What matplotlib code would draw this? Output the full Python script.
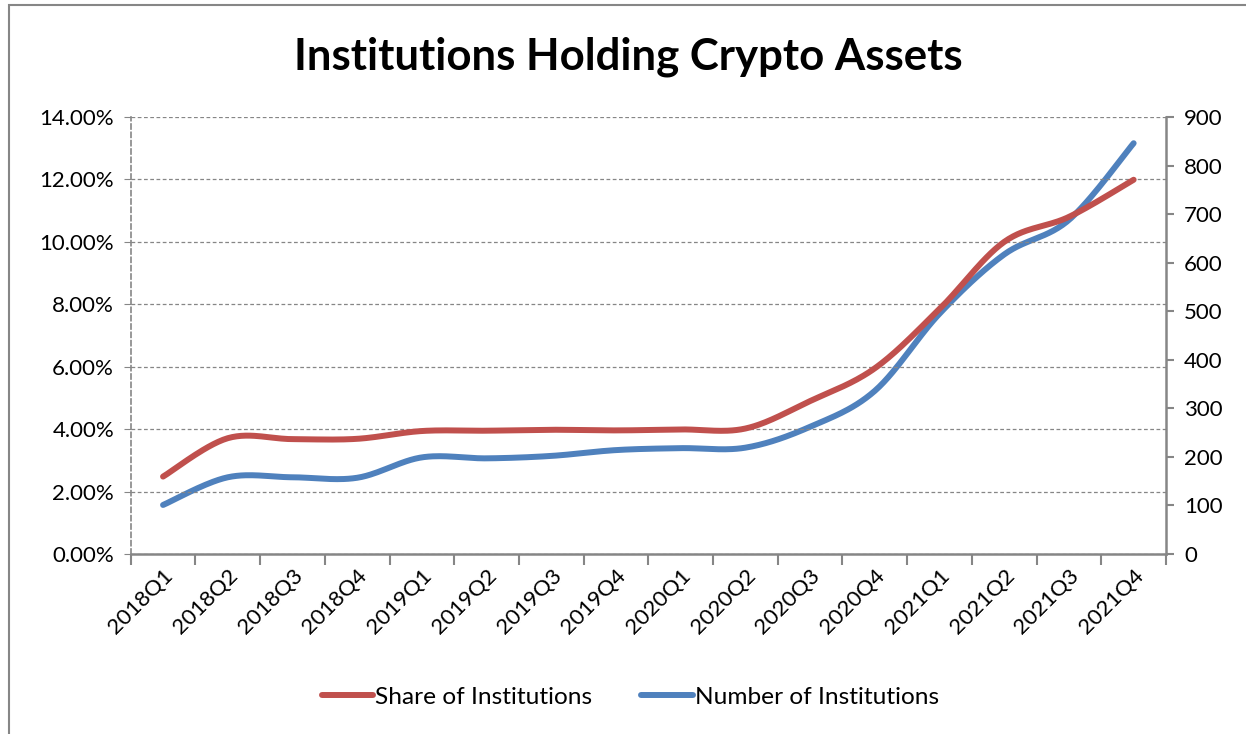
import numpy as np
import matplotlib.pyplot as plt
from matplotlib.ticker import FuncFormatter, MultipleLocator
from matplotlib.patches import Rectangle

plt.rcParams["font.family"] = ["Lato", "DejaVu Sans"]

quarters = ["2018Q1", "2018Q2", "2018Q3", "2018Q4",
            "2019Q1", "2019Q2", "2019Q3", "2019Q4",
            "2020Q1", "2020Q2", "2020Q3", "2020Q4",
            "2021Q1", "2021Q2", "2021Q3", "2021Q4"]
share_pct = [2.48, 3.71, 3.68, 3.69, 3.94, 3.95, 3.98, 3.96,
             3.99, 4.02, 4.9, 5.95, 7.85, 10.0, 10.8, 11.99]
n_inst = [101, 158, 158, 157, 199, 197, 202, 214,
          218, 219, 262, 336, 495, 617, 688, 846]

red = "#C0504D"
blue = "#4F81BD"
grey = "#868686"


def smooth(x, y, n=30):
    # excel-style bezier smoothing between points
    x = np.asarray(x, float)
    y = np.asarray(y, float)
    px = np.concatenate([[x[0]], x, [x[-1]]])
    py = np.concatenate([[y[0]], y, [y[-1]]])
    xs, ys = [], []
    t = np.linspace(0, 1, n)
    for i in range(1, len(px) - 2):
        p0 = np.array([px[i], py[i]])
        p3 = np.array([px[i + 1], py[i + 1]])
        c1 = p0 + (np.array([px[i + 1], py[i + 1]]) - np.array([px[i - 1], py[i - 1]])) / 6
        c2 = p3 - (np.array([px[i + 2], py[i + 2]]) - np.array([px[i], py[i]])) / 6
        b = ((1 - t) ** 3)[:, None] * p0 + (3 * (1 - t) ** 2 * t)[:, None] * c1 \
            + (3 * (1 - t) * t ** 2)[:, None] * c2 + (t ** 3)[:, None] * p3
        xs.append(b[:, 0])
        ys.append(b[:, 1])
    return np.concatenate(xs), np.concatenate(ys)


fig = plt.figure(figsize=(12.46, 7.34), dpi=100)
# outer chart border, right and bottom edges fall outside the image
fig.patches.append(Rectangle((9 / 1246, -10 / 734), 1260 / 1246, 739 / 734,
                             transform=fig.transFigure, fill=False,
                             edgecolor=grey, linewidth=1.5))

ax = fig.add_axes([130.7 / 1246, (734 - 554) / 734, 1035.3 / 1246, 437 / 734])
ax2 = ax.twinx()

x = np.arange(len(quarters))
sx, sy = smooth(x, share_pct)
nx, ny = smooth(x, n_inst)

l1, = ax.plot(sx, sy, color=red, lw=4.3, solid_capstyle="round", label="Share of Institutions")
l2, = ax2.plot(nx, ny, color=blue, lw=4.3, solid_capstyle="round", label="Number of Institutions")
ax.set_zorder(ax2.get_zorder() + 1)
ax.patch.set_visible(False)

ax.set_xlim(-0.5, len(quarters) - 0.5)
ax.set_ylim(0, 14)
ax2.set_ylim(0, 900)
ax.yaxis.set_major_locator(MultipleLocator(2))
ax2.yaxis.set_major_locator(MultipleLocator(100))
ax.yaxis.set_major_formatter(FuncFormatter(lambda v, p: f"{v:.2f}%"))

ax.grid(axis="y", color=grey, ls=(0, (3, 2)), lw=0.9)
ax.set_axisbelow(True)

ax.set_xticks(x)
ax.set_xticklabels(quarters, rotation=45, ha="right", va="top", rotation_mode="anchor", fontsize=16)
ax.set_xticks(np.arange(-0.5, len(quarters)), minor=True)
ax.tick_params(axis="x", which="major", length=0, pad=8)
ax.tick_params(axis="x", which="minor", length=8, color=grey, width=1.5)

ax.tick_params(axis="y", labelsize=16, length=5, color=grey, pad=7)
ax2.tick_params(axis="y", labelsize=16, length=6, color=grey, width=1.5, pad=7)

for a in (ax, ax2):
    a.spines["top"].set_visible(False)
ax.spines["left"].set_color(grey)
ax.spines["left"].set_linestyle((0, (3, 2)))
ax.spines["left"].set_linewidth(1.2)
ax.spines["bottom"].set_color(grey)
ax.spines["bottom"].set_linewidth(1.8)
ax.spines["right"].set_visible(False)
ax2.spines["left"].set_visible(False)
ax2.spines["bottom"].set_visible(False)
ax2.spines["right"].set_color(grey)
ax2.spines["right"].set_linewidth(1.8)

fig.text(0.504, 1 - 57 / 734, "Institutions Holding Crypto Assets", ha="center", va="center",
         fontsize=31.5, fontweight="bold")

fig.legend(handles=[l1, l2], loc="center", bbox_to_anchor=(0.506, 1 - 697 / 734), ncol=2,
           frameon=False, fontsize=17.6, handlelength=2.1, handletextpad=0.1, columnspacing=2.0)

fig.savefig("out.png", dpi=100)
